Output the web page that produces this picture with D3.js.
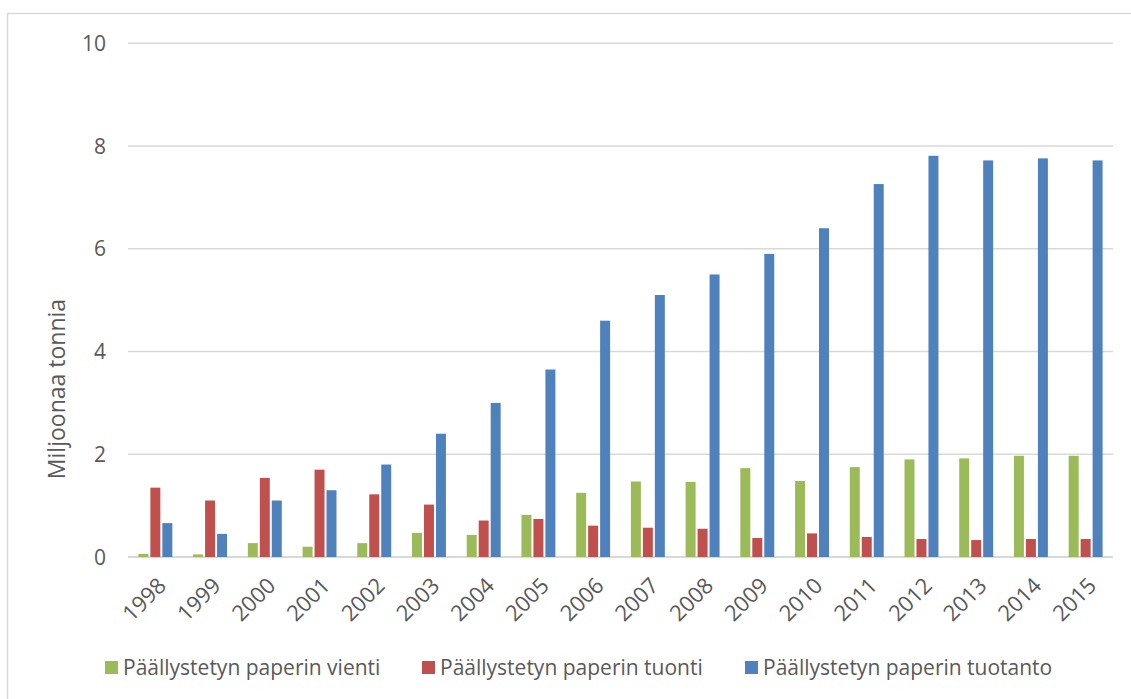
<!DOCTYPE html>
<html>
<head>
<meta charset="utf-8">
<script src="https://cdn.jsdelivr.net/npm/d3@7"></script>
<style>
  body{margin:0;background:#fff}
  text{font-family:"Open Sans",sans-serif;fill:#595959}
</style>
</head>
<body>
<svg width="1131" height="699"></svg>
<script>
// ===== DATA =====
const years = ["1998","1999","2000","2001","2002","2003","2004","2005","2006","2007","2008","2009","2010","2011","2012","2013","2014","2015"]
const vienti   = [0.06,0.05,0.27,0.20,0.27,0.47,0.43,0.82,1.25,1.47,1.46,1.73,1.48,1.75,1.90,1.92,1.97,1.97]
const tuonti   = [1.35,1.10,1.54,1.70,1.22,1.02,0.71,0.74,0.61,0.57,0.55,0.37,0.46,0.39,0.35,0.33,0.35,0.35]
const tuotanto = [0.66,0.45,1.10,1.30,1.80,2.40,3.00,3.65,4.60,5.10,5.50,5.90,6.40,7.26,7.81,7.72,7.76,7.72]
const seriesNames = ["Päällystetyn paperin vienti","Päällystetyn paperin tuonti","Päällystetyn paperin tuotanto"]
const yTicks = [0,2,4,6,8,10]
const colors = ["#9bbb59","#c0504d","#4f81bd"]

const svg = d3.select("svg")

// outer frame
svg.append("rect")
.attr("x",7.5).attr("y",13.5)
.attr("width",1140).attr("height",700)
.attr("fill","none").attr("stroke","#d9d9d9").attr("stroke-width",1.5)

const plotL = 128, plotR = 1113, plotT = 43.3, plotB = 557

// SCALES
const x0 = d3.scaleBand()
.domain(years)
.range([plotL,plotR])
.paddingInner(0.38)
.paddingOuter(0.19)

const keys = [0,1,2]
const x1 = d3.scaleBand()
.domain(keys)
.range([0,x0.bandwidth()])
.paddingInner(0.167)

const y = d3.scaleLinear()
.domain([0,10])
.range([plotB,plotT])

// GRID
svg.append("g")
.selectAll("line")
.data(yTicks)
.enter()
.append("line")
.attr("x1",plotL).attr("x2",plotR)
.attr("y1",d=>y(d)).attr("y2",d=>y(d))
.attr("stroke","#d9d9d9")
.attr("stroke-width",d=>d===0?2:1.5)

// Y AXIS LABELS
svg.append("g")
.selectAll("text")
.data(yTicks)
.enter()
.append("text")
.attr("x",106)
.attr("y",d=>y(d))
.attr("dy","0.36em")
.attr("text-anchor","end")
.style("font-size","21px")
.text(d=>d)

svg.append("text")
.attr("transform","translate(65,389) rotate(-90)")
.attr("text-anchor","middle")
.style("font-size","23px")
.text("Miljoonaa tonnia")

// BARS
const rows = years.map((yr,i)=>({year:yr, vals:[vienti[i],tuonti[i],tuotanto[i]]}))

const g = svg.selectAll(".grp")
.data(rows)
.enter()
.append("g")
.attr("transform",d=>`translate(${x0(d.year)},0)`)

g.selectAll("rect")
.data(d=>d.vals.map((v,k)=>({k:k,v:v})))
.enter()
.append("rect")
.attr("x",d=>x1(d.k))
.attr("width",x1.bandwidth())
.attr("y",d=>y(d.v))
.attr("height",d=>plotB-y(d.v))
.attr("fill",d=>colors[d.k])

// X LABELS
svg.append("g")
.selectAll("text")
.data(years)
.enter()
.append("text")
.attr("transform",d=>`translate(${x0(d)+x0.bandwidth()/2+12},587) rotate(-45)`)
.attr("text-anchor","end")
.style("font-size","22px")
.text(d=>d)

// LEGEND
const legX = [105,422,745]
const legend = svg.append("g")
legend.selectAll("rect")
.data(seriesNames)
.enter()
.append("rect")
.attr("x",(d,i)=>legX[i]).attr("y",661)
.attr("width",13).attr("height",13)
.attr("fill",(d,i)=>colors[i])

legend.selectAll("text")
.data(seriesNames)
.enter()
.append("text")
.attr("x",(d,i)=>legX[i]+18)
.attr("y",667.5)
.attr("dy","0.36em")
.style("font-size","21px")
.text(d=>d)
</script>
</body>
</html>
